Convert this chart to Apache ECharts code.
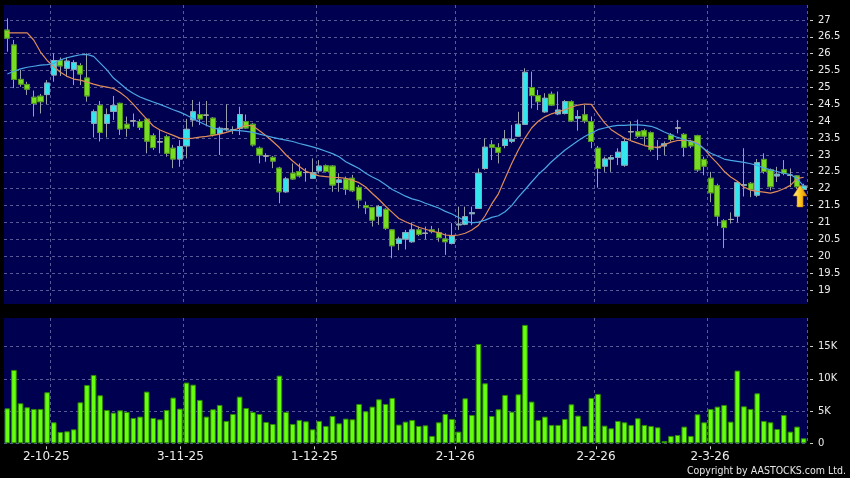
<!DOCTYPE html>
<html><head><meta charset="utf-8">
<script src="https://cdn.jsdelivr.net/npm/echarts@6/dist/echarts.min.js"></script>
<style>html,body{margin:0;padding:0;background:#000;}#c{width:850px;height:478px;}</style>
</head><body><div id="c"></div>
<script>
const dates = ("22-9-25 23-9-25 24-9-25 25-9-25 26-9-25 29-9-25 30-9-25 " +
"2-10-25 3-10-25 6-10-25 8-10-25 9-10-25 10-10-25 13-10-25 14-10-25 15-10-25 16-10-25 17-10-25 20-10-25 21-10-25 22-10-25 23-10-25 24-10-25 27-10-25 28-10-25 30-10-25 31-10-25 " +
"3-11-25 4-11-25 5-11-25 6-11-25 7-11-25 10-11-25 11-11-25 12-11-25 13-11-25 14-11-25 17-11-25 18-11-25 19-11-25 20-11-25 21-11-25 24-11-25 25-11-25 26-11-25 27-11-25 28-11-25 " +
"1-12-25 2-12-25 3-12-25 4-12-25 5-12-25 8-12-25 9-12-25 10-12-25 11-12-25 12-12-25 15-12-25 16-12-25 17-12-25 18-12-25 19-12-25 22-12-25 23-12-25 24-12-25 29-12-25 30-12-25 31-12-25 " +
"2-1-26 5-1-26 6-1-26 7-1-26 8-1-26 9-1-26 12-1-26 13-1-26 14-1-26 15-1-26 16-1-26 19-1-26 20-1-26 21-1-26 22-1-26 23-1-26 26-1-26 27-1-26 28-1-26 29-1-26 30-1-26 " +
"2-2-26 3-2-26 4-2-26 5-2-26 6-2-26 9-2-26 10-2-26 11-2-26 12-2-26 13-2-26 16-2-26 20-2-26 23-2-26 24-2-26 25-2-26 26-2-26 27-2-26 " +
"2-3-26 3-3-26 4-3-26 5-3-26 6-3-26 9-3-26 10-3-26 11-3-26 12-3-26 13-3-26 16-3-26 17-3-26 18-3-26 19-3-26 20-3-26").split(' ');

const open = [26.70,26.26,25.24,25.09,24.71,24.74,24.79,25.37,25.80,25.57,25.54,25.65,25.28,23.94,24.47,23.94,24.29,24.53,23.91,24.01,
23.99,24.06,23.57,23.39,23.54,23.20,22.88,23.27,24.04,24.20,24.18,24.09,23.64,23.77,23.75,23.79,23.99,23.91,23.20,22.97,
22.93,22.61,21.91,22.46,22.51,22.48,22.31,22.53,22.68,22.67,22.19,22.29,22.31,22.04,21.50,21.44,21.19,21.39,20.78,20.38,
20.51,20.43,20.78,20.68,20.78,20.70,20.51,20.38,20.93,20.95,21.26,21.42,22.60,23.30,23.22,23.28,23.41,23.56,23.91,25.00,
24.76,24.28,24.80,24.22,24.23,24.58,24.09,24.19,23.99,23.20,22.67,22.88,22.93,22.70,23.69,23.69,23.72,23.66,23.22,23.27,
23.59,23.80,23.61,23.40,23.57,22.87,22.31,22.09,21.05,21.09,21.19,22.10,22.16,21.81,22.87,22.56,22.38,22.56,22.40,22.38,21.98];
const close = [26.46,25.24,25.10,24.95,24.53,24.58,25.13,25.80,25.64,25.78,25.74,25.40,24.75,24.28,23.67,24.20,24.46,23.77,23.79,24.01,
23.82,23.41,23.22,23.39,23.05,22.88,23.25,23.76,24.28,24.07,24.18,23.61,23.79,23.77,23.75,24.20,23.80,23.30,23.00,22.97,
22.82,21.91,22.29,22.29,22.38,22.48,22.48,22.67,22.51,22.11,22.26,21.98,21.94,21.67,21.44,21.07,21.47,20.83,20.31,20.51,
20.70,20.78,20.65,20.68,20.73,20.55,20.43,20.60,20.95,21.17,21.29,22.46,23.23,23.23,23.08,23.47,23.46,23.91,25.45,24.76,
24.58,24.68,24.48,24.33,24.58,24.01,24.14,24.01,23.40,22.60,22.88,22.92,23.08,23.40,23.69,23.56,23.56,23.17,23.22,23.33,
23.46,23.80,23.23,23.27,22.56,22.67,21.88,21.19,20.85,21.09,22.18,22.12,21.98,22.77,22.51,22.06,22.43,22.46,22.40,22.06,22.08];
const high = [27.05,26.41,25.52,25.17,24.91,24.81,25.22,26.01,25.89,25.89,25.81,25.72,26.01,24.35,24.60,24.38,24.75,24.55,24.14,24.23,
24.06,24.08,23.64,23.74,23.60,23.30,23.44,24.07,24.63,24.58,24.60,24.12,23.84,24.50,23.85,24.43,24.20,23.95,23.25,23.05,
22.97,22.65,22.35,22.75,22.75,22.61,22.90,22.85,22.72,22.70,22.46,22.36,22.41,22.11,21.62,21.45,21.52,21.42,20.80,20.58,
20.78,21.00,20.88,20.88,20.90,20.83,20.68,20.98,21.47,21.47,21.47,22.60,23.49,23.44,23.35,23.74,23.89,24.28,25.57,25.47,
24.93,24.83,24.88,24.88,24.63,24.62,24.33,24.48,24.14,23.27,22.95,23.00,23.20,23.50,23.99,24.05,23.78,23.70,23.44,23.40,
23.65,24.04,23.65,23.45,23.60,22.95,22.50,22.15,21.10,21.30,22.20,23.20,22.20,22.88,23.05,22.60,22.65,22.85,22.60,22.40,22.15];
const low = [26.06,24.98,25.02,24.78,24.14,24.23,24.51,25.17,25.34,25.32,25.07,25.07,24.58,23.52,23.40,23.52,24.04,23.59,23.54,23.84,
23.74,23.05,23.15,23.05,22.95,22.61,22.65,22.90,23.84,23.89,23.85,23.55,23.00,23.70,23.62,23.59,23.78,23.25,22.75,22.80,
22.61,21.57,21.88,22.26,22.33,22.21,22.30,22.45,22.48,21.91,21.91,21.82,21.90,21.42,21.25,20.88,20.93,20.78,19.94,20.18,
20.20,20.40,20.60,20.50,20.68,20.43,20.04,20.35,20.78,20.92,20.92,21.40,22.56,22.85,22.75,23.20,23.35,23.54,23.90,24.38,
24.33,24.25,24.45,24.18,24.20,23.98,23.72,23.94,23.20,22.03,22.50,22.50,22.70,22.65,23.44,23.50,23.30,23.10,22.85,23.00,
23.40,23.64,22.95,23.20,22.50,22.40,21.60,20.90,20.24,20.97,21.00,21.77,21.75,21.75,22.45,21.95,22.20,22.40,22.05,22.00,21.95];
const ma10 = [26.62,26.62,26.62,26.62,26.40,26.05,25.80,25.62,25.45,25.33,25.25,25.22,25.16,25.10,25.05,25.01,24.97,24.85,24.70,24.50,
24.28,24.06,23.86,23.74,23.66,23.58,23.50,23.48,23.50,23.53,23.55,23.58,23.62,23.67,23.73,23.80,23.88,23.86,23.72,23.57,
23.40,23.22,23.00,22.82,22.66,22.52,22.44,22.38,22.36,22.34,22.33,22.31,22.25,22.18,22.05,21.86,21.68,21.48,21.30,21.12,
21.02,20.94,20.86,20.80,20.74,20.70,20.63,20.61,20.63,20.68,20.78,20.92,21.20,21.55,21.85,22.30,22.75,23.15,23.50,23.80,
24.00,24.13,24.22,24.28,24.34,24.42,24.48,24.51,24.50,24.22,23.95,23.75,23.62,23.50,23.42,23.35,23.28,23.24,23.23,23.30,
23.38,23.43,23.44,23.42,23.36,23.18,22.95,22.75,22.52,22.35,22.22,22.05,21.96,21.92,21.90,21.87,21.92,22.00,22.10,22.30,22.34];
const ma20 = [25.40,25.48,25.55,25.60,25.63,25.66,25.68,25.71,25.82,25.88,25.93,25.97,25.98,25.92,25.72,25.52,25.28,25.12,24.95,24.82,
24.72,24.64,24.57,24.50,24.42,24.34,24.27,24.18,24.08,23.98,23.88,23.80,23.76,23.74,23.73,23.72,23.70,23.67,23.62,23.57,
23.52,23.48,23.44,23.40,23.34,23.29,23.24,23.18,23.11,23.04,22.95,22.80,22.70,22.60,22.46,22.35,22.25,22.12,21.98,21.88,
21.78,21.70,21.65,21.57,21.50,21.43,21.33,21.25,21.15,21.05,20.99,21.01,21.07,21.15,21.20,21.32,21.50,21.75,21.97,22.20,
22.42,22.60,22.80,22.97,23.14,23.28,23.42,23.55,23.65,23.75,23.80,23.85,23.88,23.88,23.89,23.89,23.88,23.85,23.78,23.68,
23.60,23.52,23.46,23.40,23.33,23.18,23.05,22.97,22.88,22.84,22.81,22.78,22.74,22.69,22.62,22.56,22.51,22.46,22.42,22.30,22.08];
const volume = [5.43,11.38,6.21,5.59,5.33,5.33,7.92,3.26,1.76,1.86,2.17,6.36,9.05,10.6,7.45,5.17,4.76,5.12,4.86,3.93,
4.14,8.02,3.93,3.72,5.17,7.09,5.38,9.42,9.10,6.73,4.14,5.28,5.95,3.47,4.55,7.24,5.48,4.86,4.55,3.31,
3.00,10.5,4.86,3.00,3.62,3.41,2.17,3.47,2.69,4.24,3.10,3.83,3.72,6.10,4.97,5.69,6.83,6.10,7.04,2.90,
3.36,3.62,2.69,2.79,1.14,3.26,4.55,3.78,1.81,6.98,4.40,15.4,9.31,4.24,5.28,7.50,4.91,7.60,18.37,6.47,
3.62,4.14,2.85,2.85,3.78,6.05,4.29,2.69,7.04,7.66,2.74,2.33,3.47,3.26,2.85,3.88,2.85,2.69,2.48,0.36,
1.14,1.29,2.59,1.14,4.50,3.26,5.33,5.69,5.95,3.36,11.28,5.74,5.33,7.76,3.47,3.26,2.22,4.40,1.81,2.59,0.78];
const priceTicks = [19,19.5,20,20.5,21,21.5,22,22.5,23,23.5,24,24.5,25,25.5,26,26.5,27];
const volumeTicks = [0,5,10,15];

const month = d => d.split('-')[1];
const monthStarts = dates.map((d, i) => (i > 0 && month(d) !== month(dates[i - 1])) ? i : -1).filter(i => i >= 0);
const isMonthStart = i => monthStarts.indexOf(i) >= 0;

const wickData = dates.map((d, i) => [open[i], close[i], low[i], high[i]]);
const bodyData = dates.map((d, i) => [open[i], close[i], Math.min(open[i], close[i]), Math.max(open[i], close[i])]);

const gridLine = { color: '#5a5a96', type: [3, 3], width: 1 };
const labelColor = '#ececec';
const font = 'DejaVu Sans';

const chart = echarts.init(document.getElementById('c'), null, { renderer: 'canvas' });
chart.setOption({
  animation: false,
  backgroundColor: '#000000',
  textStyle: { fontFamily: font },
  title: {
    text: 'Copyright by AASTOCKS.com Ltd.',
    right: 4, bottom: 1, padding: 0,
    textStyle: { color: '#e6e6e6', fontSize: 10.5, fontWeight: 'normal', fontFamily: 'DejaVu Sans Condensed, DejaVu Sans' }
  },
  grid: [
    { left: 4, right: 43, top: 5, height: 299, show: true, backgroundColor: '#000050', borderWidth: 0 },
    { left: 4, right: 43, top: 318, height: 125.3, show: true, backgroundColor: '#000050', borderWidth: 0 }
  ],
  xAxis: [
    { type: 'category', gridIndex: 0, data: dates, boundaryGap: true,
      axisLine: { show: false }, axisTick: { show: false }, axisLabel: { show: false },
      splitLine: { show: true, interval: (i) => isMonthStart(i), lineStyle: gridLine } },
    { type: 'category', gridIndex: 1, data: dates, boundaryGap: true,
      axisLine: { show: false }, axisTick: { show: false }, axisLabel: { show: false },
      splitLine: { show: true, interval: (i) => isMonthStart(i), lineStyle: gridLine } },
    { type: 'value', gridIndex: 1, position: 'bottom', min: 0.691, max: 120.47, offset: 3,
      axisLine: { show: false },
      axisTick: { show: true, length: 3, customValues: monthStarts, lineStyle: { color: '#cccccc' } },
      axisLabel: { customValues: monthStarts, formatter: v => dates[Math.round(v)], color: labelColor, fontSize: 12, margin: 5 },
      splitLine: { show: false } }
  ],
  yAxis: [
    { type: 'value', gridIndex: 0, position: 'right', min: 18.585, max: 27.444, offset: 3,
      axisLine: { show: false },
      axisTick: { show: true, length: 3, customValues: priceTicks, lineStyle: { color: '#cccccc' } },
      axisLabel: { customValues: priceTicks, color: labelColor, fontSize: 10, margin: 8 },
      splitLine: { show: true, lineStyle: gridLine } },
    { type: 'value', gridIndex: 1, position: 'right', min: 0, max: 19.44, offset: 3,
      axisLine: { show: false },
      axisTick: { show: true, length: 3, customValues: volumeTicks, lineStyle: { color: '#cccccc' } },
      axisLabel: { customValues: volumeTicks, formatter: v => v === 0 ? '0' : v + 'K', color: labelColor, fontSize: 10, margin: 8 },
      splitLine: { show: true, lineStyle: gridLine } }
  ],
  series: [
    { type: 'candlestick', name: 'wick', xAxisIndex: 0, yAxisIndex: 0, data: wickData, barWidth: 5.6, z: 2, silent: true,
      itemStyle: { color: 'rgba(0,0,0,0)', color0: 'rgba(0,0,0,0)', borderColor: '#9aa0a8', borderColor0: '#9aa0a8', borderColorDoji: '#9aa0a8', borderWidth: 1 } },
    { type: 'candlestick', name: 'body', xAxisIndex: 0, yAxisIndex: 0, data: bodyData, barWidth: 5.6, z: 3,
      itemStyle: { color: '#33e6ee', color0: '#78dc22', borderColor: '#8aa6b6', borderColor0: '#4c9618', borderColorDoji: '#a8a8a8', borderWidth: 1 },
      markPoint: {
        symbol: 'path://M7,0 L14,11 L10,11 L10,22 L4,22 L4,11 L0,11 Z',
        symbolSize: [14, 22], symbolOffset: [3, 0], label: { show: false },
        itemStyle: { color: { type: 'linear', x: 0, y: 0, x2: 1, y2: 0, colorStops: [
          { offset: 0, color: '#fff4a8' }, { offset: 0.45, color: '#ffcc22' }, { offset: 1, color: '#e08a00' } ] },
          borderColor: '#c07800', borderWidth: 0.5 },
        data: [{ coord: [119, 21.785] }]
      } },
    { type: 'line', name: 'MA10', xAxisIndex: 0, yAxisIndex: 0, data: ma10, symbol: 'none', z: 4, silent: true,
      lineStyle: { color: '#e08c5a', width: 1.2 } },
    { type: 'line', name: 'MA20', xAxisIndex: 0, yAxisIndex: 0, data: ma20, symbol: 'none', z: 4, silent: true,
      lineStyle: { color: '#4aa6e4', width: 1.2 } },
    { type: 'bar', name: 'Volume', xAxisIndex: 1, yAxisIndex: 1, data: volume, barWidth: 5.6,
      itemStyle: { color: '#66ff10', borderColor: '#2f8a00', borderWidth: 1 } }
  ]
});
</script>
</body></html>
